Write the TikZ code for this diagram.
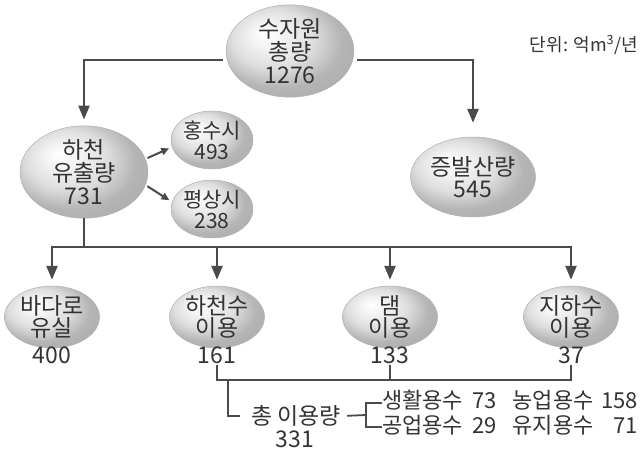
\documentclass[tikz,border=0pt]{standalone}
\usepackage{fontspec}
\setmainfont{Noto Sans CJK KR}
\usetikzlibrary{arrows.meta,positioning,shapes.geometric}
\definecolor{inkGray}{HTML}{333333}
\definecolor{lineGray}{HTML}{4A4A4A}
\pgfdeclareradialshading{eggShade}{\pgfpoint{-10bp}{10bp}}{%
  color(0bp)=(white); color(7bp)=(gray!10); color(16bp)=(gray!26);
  color(25bp)=(gray!58); color(50bp)=(gray!78)}

\begin{document}
\begin{tikzpicture}[
  x=1pt, y=-1pt,
  font=\fontsize{23}{22}\selectfont,
  text=inkGray,
  >={Triangle[length=14pt,width=11pt]},
  egg/.style={
    ellipse,
    shading=eggShade,
    draw=gray!60,
    line width=0.5pt,
    align=center,
    inner sep=0pt
  },
  big egg/.style={egg, minimum width=128pt, minimum height=88pt, font=\fontsize{23}{23}\selectfont},
  mid egg/.style={egg, minimum width=125pt, minimum height=80pt},
  small egg/.style={egg, minimum width=82pt, minimum height=58pt, font=\fontsize{21}{21}\selectfont},
  leaf egg/.style={egg, minimum width=95pt, minimum height=62pt},
  value/.style={inner sep=1pt},
  flow/.style={
    ->,
    draw=lineGray,
    line width=2.4pt,
    shorten >=6pt
  },
  side flow/.style={
    -{Triangle[length=8pt,width=7pt]},
    draw=lineGray,
    line width=2pt,
    shorten >=3pt,
    shorten <=2pt
  },
  link/.style={draw=lineGray, line width=2.2pt},
  bracket/.style={draw=lineGray, line width=1.8pt}
]
\useasboundingbox (0,0) rectangle (641,451);

% Source and first split
\node[big egg] (total) at (290,51) {수자원\\총량\\1276};
\node[anchor=east, inner sep=1pt, font=\fontsize{18}{20}\selectfont] (unit) at (639,45) {단위: 억m\textsuperscript{3}/년};

\node[big egg] (riverOut) at (84,172) {하천\\유출량\\731};
\node[mid egg] (evap) at (473,177) {증발산량\\545};

\node[small egg] (flood) at (212,140) {홍수시\\493};
\node[small egg] (normal) at (212,209) {평상시\\238};

% Outflow destinations
\node[leaf egg] (sea) at (52,317) {바다로\\유실};
\node[leaf egg] (river) at (217,317) {하천수\\이용};
\node[leaf egg] (dam) at (390,317) {댐\\이용};
\node[leaf egg] (ground) at (571,317) {지하수\\이용};

\node[value] (seaV) at (52,355) {400};
\node[value] (riverV) at (217,355) {161};
\node[value] (damV) at (390,355) {133};
\node[value] (groundV) at (571,355) {37};

% Total use
\node[value] (sumLabel) at (296,416) {총 이용량};
\node[value] (sumV) at (295,439) {331};
\node[anchor=west, inner sep=0pt, font=\fontsize{22}{22}\selectfont] (uses) at (382,415) {%
  \begin{tabular}{@{}l@{\hspace{9pt}}r@{\hspace{16pt}}l@{\hspace{8pt}}r@{}}
    생활용수 & 73 & 농업용수 & 158\\
    공업용수 & 29 & 유지용수 & 71
  \end{tabular}};

% Connectors
\draw[flow, shorten <=4pt] (total.188) -| (riverOut);
\draw[flow, shorten <=4pt, shorten >=14pt] (total.352) -| (evap);
\draw[side flow] (riverOut.12) -- (flood.190);
\draw[side flow] (riverOut.-12) -- (normal.170);

\coordinate (splitY) at (84,247);
\draw[link] (riverOut) -- (splitY);
\draw[flow] (splitY) -| (sea);
\draw[flow] (splitY) -| (ground);
\draw[flow] (river |- splitY) -- (river);
\draw[flow] (dam |- splitY) -- (dam);

\coordinate (sumBar) at (0,380);
\draw[link] (riverV.south) -- (riverV.south |- sumBar) -- (groundV.south |- sumBar) -- (groundV.south);
\draw[link] (damV.south) -- (damV.south |- sumBar);
\coordinate (sumDrop) at (228,380);
\draw[link, shorten >=10pt] (sumDrop) |- (sumLabel.west);

\coordinate (brk) at (366,415);
\draw[bracket, shorten <=5pt] (sumLabel.east) -- (brk);
\draw[bracket] (uses.west |- 0,403) -- (brk |- 0,403) -- (brk |- 0,427) -- (uses.west |- 0,427);

\end{tikzpicture}
\end{document}
